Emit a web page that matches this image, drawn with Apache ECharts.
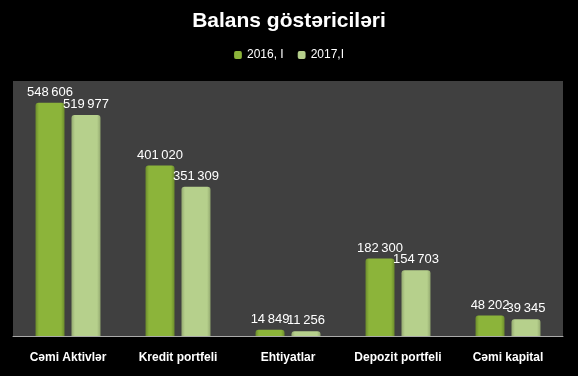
<!DOCTYPE html>
<html><head><meta charset="utf-8">
<script src="https://cdn.jsdelivr.net/npm/echarts@6/dist/echarts.min.js"></script>
<style>html,body{margin:0;padding:0;background:#000;}#c{width:578px;height:376px;}</style>
</head><body><div id="c"></div>
<script>
var categories = ['Cəmi Aktivlər', 'Kredit portfeli', 'Ehtiyatlar', 'Depozit portfeli', 'Cəmi kapital'];
var seriesNames = ['2016, I', '2017,I'];
var values2016 = [548606, 401020, 14849, 182300, 48202];
var values2017 = [519977, 351309, 11256, 154703, 39345];

function grad(edge, mid) {
  return new echarts.graphic.LinearGradient(0, 0, 1, 0, [
    {offset: 0, color: edge}, {offset: 0.12, color: mid}, {offset: 0.88, color: mid}, {offset: 1, color: edge}
  ]);
}
function fmt(v) { return String(v).replace(/\B(?=(\d{3})+(?!\d))/g, '\u2009'); }
var font = 'Liberation Sans, Arial, sans-serif';
var chart = echarts.init(document.getElementById('c'));
chart.setOption({
  backgroundColor: '#000',
  animation: false,
  title: {text: 'Balans göstəriciləri', left: 'center', top: 6,
    textStyle: {color: '#fff', fontSize: 21, fontWeight: 'bold', fontFamily: font}},
  legend: {top: 44, left: 'center', itemWidth: 8, itemHeight: 8, itemGap: 14,
    textStyle: {color: '#fff', fontSize: 12, fontFamily: font},
    data: seriesNames},
  grid: {left: 13, right: 15, top: 81, bottom: 40, containLabel: false,
    show: true, backgroundColor: '#404040', borderWidth: 0},
  xAxis: {type: 'category', data: categories,
    axisLine: {lineStyle: {color: '#aaaaaa', width: 1}}, axisTick: {show: false},
    axisLabel: {interval: 0, hideOverlap: false, color: '#fff', fontWeight: 'bold', fontSize: 12, fontFamily: font, margin: 16}},
  yAxis: {type: 'value', min: 0, max: 600000, show: false, splitLine: {show: false}},
  series: [
    {name: seriesNames[0], type: 'bar', data: values2016, barWidth: 29, barGap: '24%',
     itemStyle: {color: grad('#6c8c2c', '#8cb43a'), borderRadius: [3, 3, 0, 0]},
     label: {show: true, position: 'top', distance: 4, color: '#fff', fontSize: 13, fontFamily: font,
       formatter: function (p) { return fmt(p.value); }}},
    {name: seriesNames[1], type: 'bar', data: values2017, barWidth: 29,
     itemStyle: {color: grad('#94aa70', '#b6d08c'), borderRadius: [3, 3, 0, 0]},
     label: {show: true, position: 'top', distance: 4, color: '#fff', fontSize: 13, fontFamily: font,
       formatter: function (p) { return fmt(p.value); }}}
  ]
});
</script></body></html>
